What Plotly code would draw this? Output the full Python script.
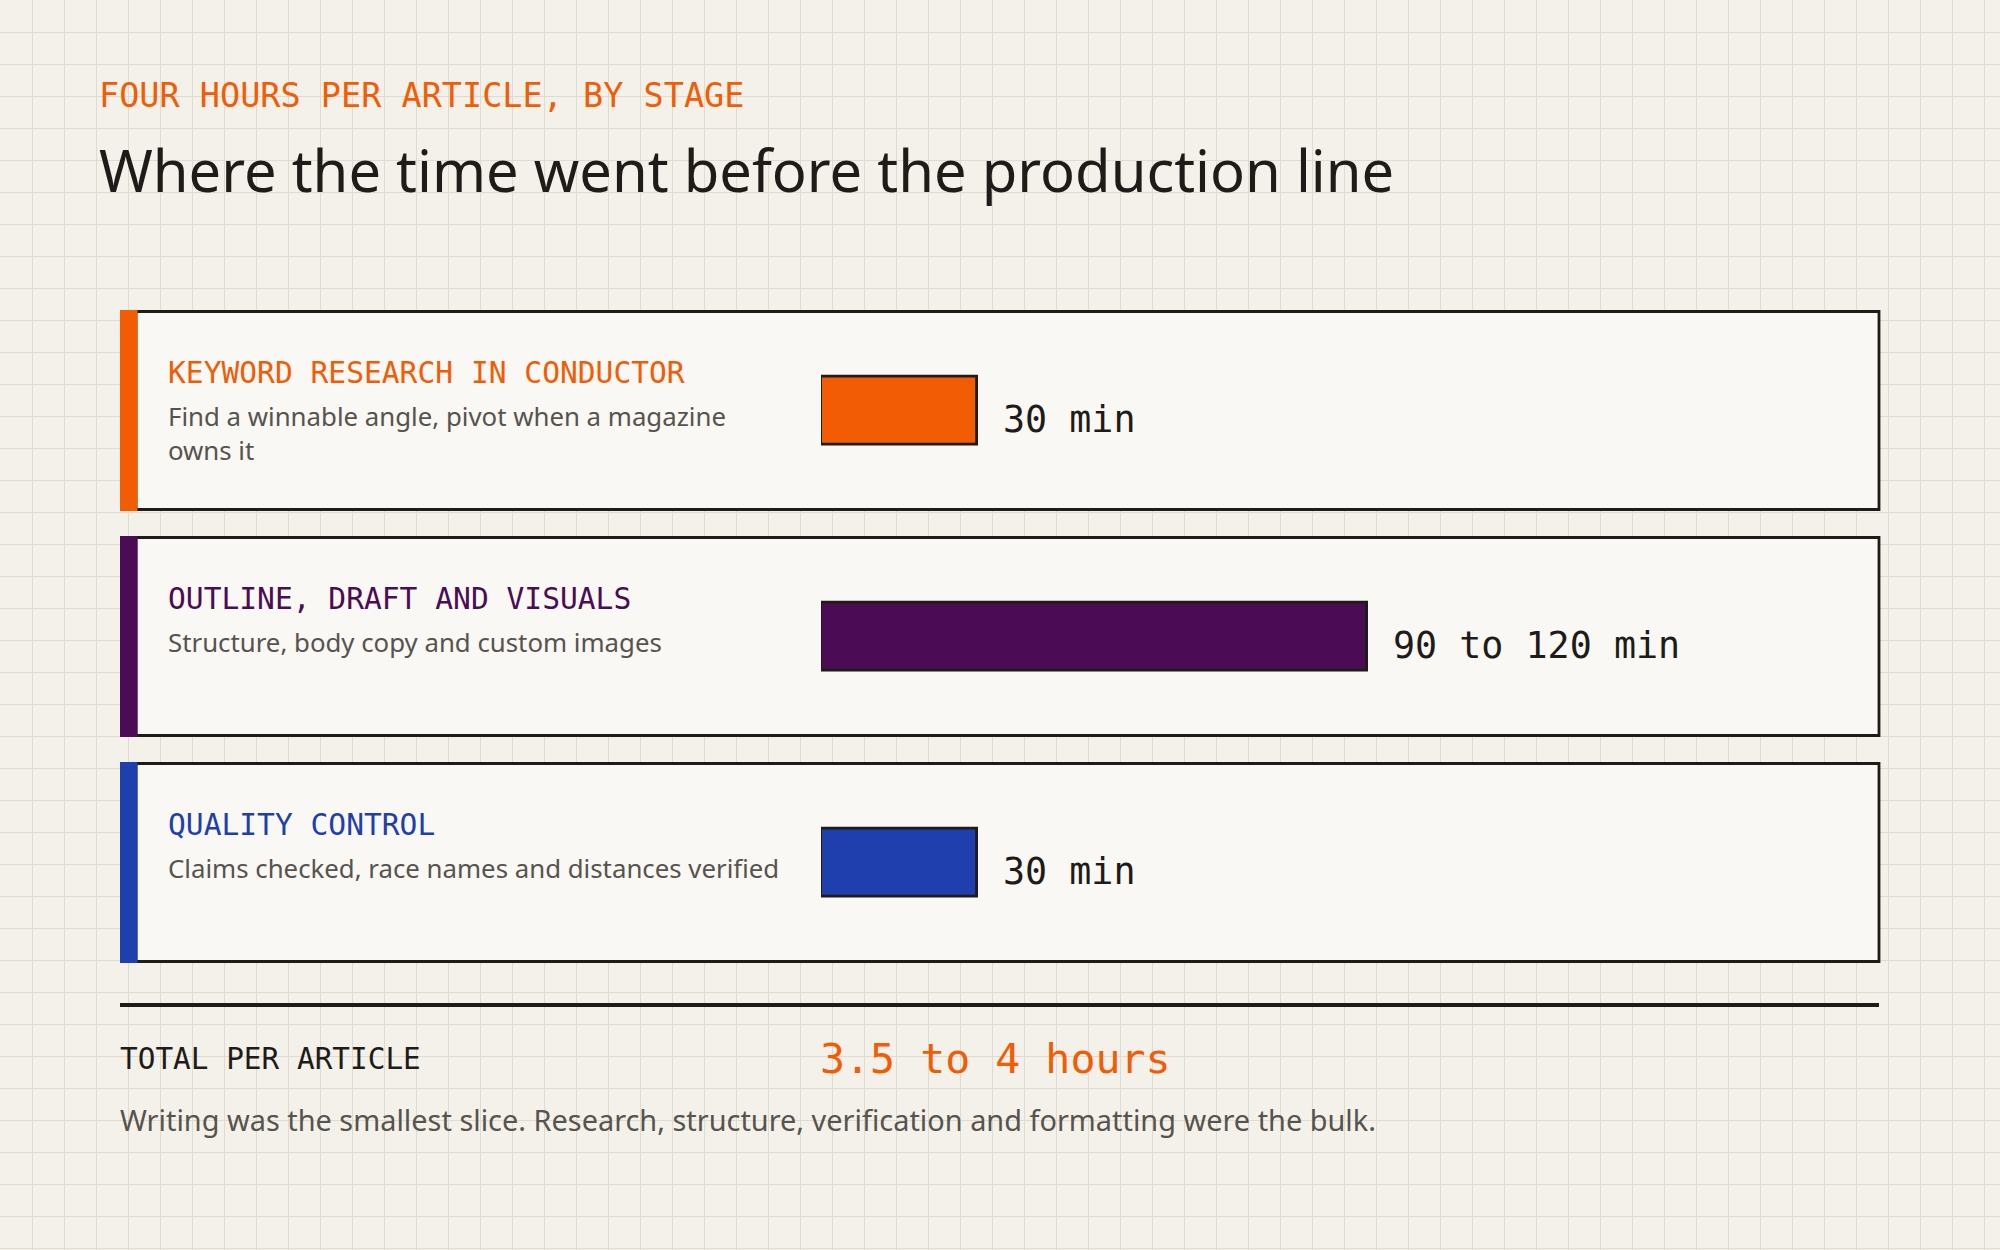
import plotly.graph_objects as go

# Data tahapan (menit per artikel)
stages = ["KEYWORD RESEARCH IN CONDUCTOR", "OUTLINE, DRAFT AND VISUALS", "QUALITY CONTROL"]
descriptions = [
    "Find a winnable angle, pivot when a magazine<br>owns it",
    "Structure, body copy and custom images",
    "Claims checked, race names and distances verified",
]
minutes = [30, 105, 30]
value_labels = ["30 min", "90 to 120 min", "30 min"]
stage_colors = ["#F25C05", "#4B0C55", "#1F3FAE"]

kicker = "FOUR HOURS PER ARTICLE, BY STAGE"
title = "Where the time went before the production line"
total_label = "TOTAL PER ARTICLE"
total_value = "3.5 to 4 hours"
footnote = "Writing was the smallest slice. Research, structure, verification and formatting were the bulk."

# Warna dan font
BG = "#F4F1EA"
GRID = "#DFDBD2"
CARD = "#F9F8F4"
INK = "#1E1B18"
MUTED = "#57534D"
ORANGE = "#F25C05"
MONO = "DejaVu Sans Mono"
SANS = "Noto Sans"

W, H = 2000, 1250
card_top = 311.5
card_h = 198
card_pitch = 226
bar_left = 821
bar_right = 1879
px_per_min = 5.2


def add_text(fig, text, x, baseline, size, color, family, k=0.35):
    # taruh teks berdasarkan garis dasar (baseline) dalam piksel
    fig.add_annotation(
        x=x, y=baseline - k * size, xref="x", yref="y",
        text=text, showarrow=False, xanchor="left", yanchor="middle",
        font=dict(family=family, size=size, color=color),
    )


fig = go.Figure()

# Batang waktu per tahap
fig.add_trace(go.Bar(
    x=minutes,
    y=list(range(len(stages))),
    orientation="h",
    width=68 / card_pitch,
    marker=dict(color=stage_colors, line=dict(color=INK, width=2.8)),
    xaxis="x2", yaxis="y2",
    hoverinfo="skip",
))

# Kartu untuk setiap tahap
for i, stage in enumerate(stages):
    top = card_top + i * card_pitch
    fig.add_shape(type="rect", xref="x", yref="y", layer="between",
                  x0=136, x1=1879, y0=top, y1=top + card_h,
                  fillcolor=CARD, line=dict(color=INK, width=2.8))
    fig.add_shape(type="rect", xref="x", yref="y", layer="between",
                  x0=120, x1=137.5, y0=top - 1.5, y1=top + card_h + 1.5,
                  fillcolor=stage_colors[i], line=dict(width=0))
    add_text(fig, stage, 166, top + 71.5, 29.6, stage_colors[i], MONO)
    fig.add_annotation(
        x=166, y=top + 112.5 - 1.07 * 25.8, xref="x", yref="y",
        text=descriptions[i], showarrow=False, xanchor="left", yanchor="top",
        align="left", font=dict(family=SANS, size=25.8, color=MUTED),
    )
    fig.add_annotation(
        x=minutes[i], y=i, xref="x2", yref="y2", xanchor="left", yanchor="middle",
        xshift=24, yshift=-9, text=value_labels[i], showarrow=False,
        font=dict(family=MONO, size=36.7, color=INK),
    )

# Judul
add_text(fig, kicker, 96.5, 107, 33.5, ORANGE, MONO)
add_text(fig, title, 97, 192, 57.9, INK, SANS, k=0.39)

# Total dan catatan kaki
fig.add_shape(type="line", xref="x", yref="y", layer="between",
              x0=120, x1=1879, y0=1005, y1=1005, line=dict(color=INK, width=4))
add_text(fig, total_label, 118, 1069, 29.4, INK, MONO)
add_text(fig, total_value, 818, 1073, 41.6, ORANGE, MONO)
add_text(fig, footnote, 118, 1131, 28.9, MUTED, SANS, k=0.39)

fig.update_layout(
    width=W, height=H,
    margin=dict(l=0, r=0, t=0, b=0),
    paper_bgcolor=BG, plot_bgcolor="rgba(0,0,0,0)",
    showlegend=False,
    bargap=0,
    xaxis=dict(range=[0, W], domain=[0, 1], tick0=0, dtick=32, showgrid=True,
               gridcolor=GRID, gridwidth=1, zeroline=False, showticklabels=False,
               ticks="", showline=False, fixedrange=True),
    yaxis=dict(range=[H, 0], domain=[0, 1], tick0=0, dtick=32, showgrid=True,
               gridcolor=GRID, gridwidth=1, zeroline=False, showticklabels=False,
               ticks="", showline=False, fixedrange=True),
    xaxis2=dict(range=[0, (bar_right - bar_left) / px_per_min],
                domain=[bar_left / W, bar_right / W], anchor="y2", visible=False),
    yaxis2=dict(range=[len(stages) - 0.5, -0.5],
                domain=[1 - (card_top + 99 + 2 * card_pitch + card_pitch / 2) / H,
                        1 - (card_top + 99 - card_pitch / 2) / H],
                anchor="x2", visible=False),
)

fig.write_html("out.html", config={"displayModeBar": False},
               post_script="document.body.style.margin='0';")
